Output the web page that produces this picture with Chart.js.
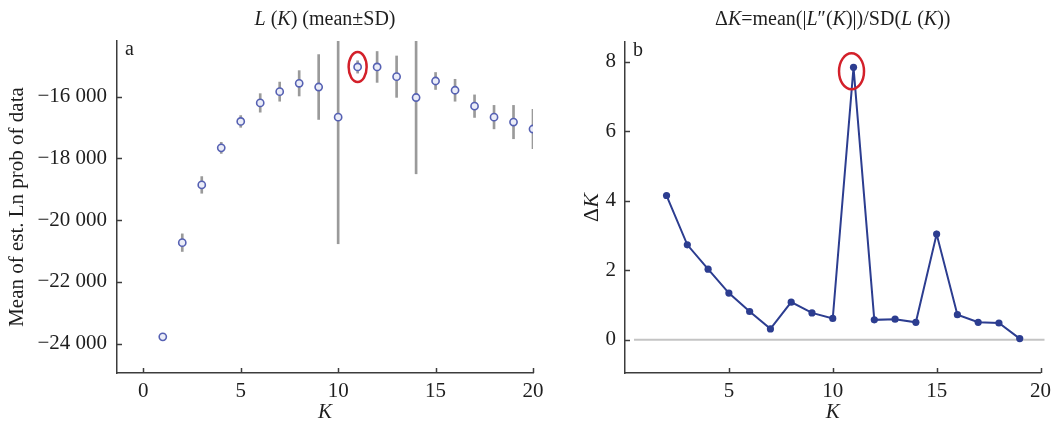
<!DOCTYPE html>
<html><head><meta charset="utf-8">
<script src="https://cdn.jsdelivr.net/npm/chart.js@4"></script>
<style>
html,body{margin:0;padding:0;background:#fff;}
#wrap{position:relative;width:1057px;height:425px;overflow:hidden;}
#c1{position:absolute;left:0;top:0;}
#c2{position:absolute;left:560px;top:0;}
</style></head><body>
<div id="wrap"><canvas id="c1" width="560" height="425"></canvas><canvas id="c2" width="497" height="425"></canvas></div>
<script>
// ---- data ----
const kLeft = [1,2,3,4,5,6,7,8,9,10,11,12,13,14,15,16,17,18,19,20];
const meanLnProb = [-23780,-20730,-18860,-17660,-16805,-16205,-15840,-15570,-15690,-16665,-15040,-15040,-15355,-16030,-15495,-15795,-16310,-16665,-16825,-17050];
const sdLnProb = [0,285,270,180,190,300,310,410,1050,4100,200,500,670,2470,275,355,365,380,540,640];
const kRight = [2,3,4,5,6,7,8,9,10,11,12,13,14,15,16,17,18,19];
const deltaK = [4.15,2.73,2.03,1.34,0.81,0.31,1.08,0.77,0.61,7.84,0.57,0.59,0.50,3.04,0.72,0.50,0.48,0.03];
const leftXTicks = [0,5,10,15,20];
const leftYTicks = [-24000,-22000,-20000,-18000,-16000];
const rightXTicks = [5,10,15,20];
const rightYTicks = [0,2,4,6,8];
const highlightK = 11;

// ---- style ----
const FONT = '"Liberation Serif", "Times New Roman", serif';
const AX = '#3c3c3c';
const TXT = '#1e1e1e';
Chart.defaults.font.family = FONT;
Chart.defaults.color = TXT;

function fmt(v){
  const s = Math.abs(v).toString().replace(/\B(?=(\d{3})+(?!\d))/g, ' ');
  return (v < 0 ? '\u2212' : '') + s;
}

function drawRich(ctx, segs, x, y, size, rotate){
  ctx.save();
  ctx.translate(x, y);
  if (rotate) ctx.rotate(-Math.PI/2);
  ctx.textBaseline = 'middle';
  ctx.textAlign = 'left';
  ctx.fillStyle = TXT;
  let total = 0;
  segs.forEach(s => { ctx.font = (s[1] ? 'italic ' : '') + size + 'px ' + FONT; total += ctx.measureText(s[0]).width; });
  let cx = -total/2;
  segs.forEach(s => { ctx.font = (s[1] ? 'italic ' : '') + size + 'px ' + FONT; ctx.fillText(s[0], cx, 0); cx += ctx.measureText(s[0]).width; });
  ctx.restore();
}

const deco = {
  id: 'deco',
  beforeDatasetsDraw(chart, args, o){
    const {ctx, chartArea:a, scales:{x, y}} = chart;
    if (o.zeroLine){
      const py = y.getPixelForValue(0);
      ctx.save(); ctx.strokeStyle = '#c4c4c4'; ctx.lineWidth = 2;
      ctx.beginPath(); ctx.moveTo(a.left + 9, py); ctx.lineTo(a.right + 4, py); ctx.stroke(); ctx.restore();
    }
  },
  afterDraw(chart, args, o){
    const {ctx, chartArea:a, scales:{x, y}} = chart;
    // inward ticks
    ctx.save(); ctx.strokeStyle = AX; ctx.lineWidth = 1.5;
    x.ticks.forEach(t => { const px = Math.round(x.getPixelForValue(t.value)) + 0.5; ctx.beginPath(); ctx.moveTo(px, a.bottom); ctx.lineTo(px, a.bottom - 5); ctx.stroke(); });
    y.ticks.forEach(t => { const py = Math.round(y.getPixelForValue(t.value)) + 0.5; ctx.beginPath(); ctx.moveTo(a.left, py); ctx.lineTo(a.left + 5, py); ctx.stroke(); });
    ctx.restore();
    // title
    drawRich(ctx, o.title, (a.left + a.right)/2, 20, 20, false);
    if (o.yTitle) drawRich(ctx, o.yTitle, o.yTitleX, (a.top + a.bottom)/2, 22, true);
    // panel letter
    ctx.save(); ctx.fillStyle = TXT; ctx.font = '20px ' + FONT; ctx.textBaseline = 'middle'; ctx.textAlign = 'left';
    ctx.fillText(o.panel, a.left + 8, a.top + 9); ctx.restore();
    // highlight ellipse
    const h = o.highlight;
    const cx = x.getPixelForValue(h.k) + h.dx, cy = y.getPixelForValue(h.v) + h.dy;
    ctx.save(); ctx.strokeStyle = '#d3202a'; ctx.lineWidth = 2.5;
    ctx.beginPath(); ctx.ellipse(cx, cy, h.rx, h.ry, 0, 0, Math.PI*2); ctx.stroke(); ctx.restore();
  }
};

const iHi = kLeft.indexOf(highlightK);
const jHi = kRight.indexOf(highlightK);

new Chart(document.getElementById('c1'), {
  type: 'scatter',
  data: { datasets: [
    { type: 'bar', data: kLeft.map((k,i) => ({x:k, y:[meanLnProb[i]-sdLnProb[i], meanLnProb[i]+sdLnProb[i]]})),
      backgroundColor: '#9a9a9a', barThickness: 2, borderWidth: 0, order: 2 },
    { type: 'scatter', data: kLeft.map((k,i) => ({x:k, y:meanLnProb[i]})),
      pointRadius: 3.6, pointBorderWidth: 1.6, borderColor: '#5661b3', backgroundColor: 'rgba(235,237,248,1)', order: 1 }
  ]},
  options: {
    responsive: false, animation: false,
    layout: { padding: { top: 41, right: 27, left: 0, bottom: 0 } },
    plugins: { legend: {display:false}, tooltip: {enabled:false},
      deco: { title: [['L',1],[' (',0],['K',1],[') (mean\u00b1SD)',0]], panel: 'a',
        highlight: { k: highlightK, v: meanLnProb[iHi], dx: 0, dy: 0, rx: 9, ry: 15 } } },
    scales: {
      x: { type: 'linear', min: -1.35, max: 20, offset: false,
        afterBuildTicks: s => { s.ticks = leftXTicks.map(v => ({value: v})); },
        afterFit: s => { s.height = 52; },
        grid: { display: false, drawTicks: false }, border: { display: true, color: AX, width: 1.5 },
        ticks: { padding: 6, font: { size: 21 }, color: TXT, callback: v => String(v) },
        title: { display: true, text: 'K', font: { size: 21, style: 'italic' }, padding: { top: 0, bottom: 0 }, color: TXT } },
      y: { type: 'linear', min: -24950, max: -14200,
        afterBuildTicks: s => { s.ticks = leftYTicks.map(v => ({value: v})); },
        afterFit: s => { s.width = 117; },
        grid: { display: false, drawTicks: false }, border: { display: true, color: AX, width: 1.5 },
        ticks: { padding: 10, font: { size: 21 }, color: TXT, callback: v => fmt(v) },
        title: { display: true, text: 'Mean of est. Ln prob of data', font: { size: 21 }, padding: { top: 5, bottom: 0 }, color: TXT } }
    }
  },
  plugins: [deco]
});

new Chart(document.getElementById('c2'), {
  type: 'line',
  data: { datasets: [
    { data: kRight.map((k,i) => ({x:k, y:deltaK[i]})), borderColor: '#2c3d90', backgroundColor: '#2c3d90',
      borderWidth: 2, pointRadius: 3.6, pointBorderWidth: 0, tension: 0, fill: false }
  ]},
  options: {
    responsive: false, animation: false,
    layout: { padding: { top: 42, right: 16, left: 0, bottom: 0 } },
    plugins: { legend: {display:false}, tooltip: {enabled:false},
      deco: { title: [['\u0394',0],['K',1],['=mean(|',0],['L',1],['\u2033(',0],['K',1],[')|)/SD(',0],['L',1],[' (',0],['K',1],['))',0]],
        panel: 'b', yTitle: [['\u0394',0],['K',1]], yTitleX: 32, zeroLine: true,
        highlight: { k: highlightK, v: deltaK[jHi], dx: -2, dy: 4, rx: 12.5, ry: 18 } } },
    scales: {
      x: { type: 'linear', min: 0, max: 20, offset: false,
        afterBuildTicks: s => { s.ticks = rightXTicks.map(v => ({value: v})); },
        afterFit: s => { s.height = 52; },
        grid: { display: false, drawTicks: false }, border: { display: true, color: AX, width: 1.5 },
        ticks: { padding: 6, font: { size: 21 }, color: TXT, callback: v => String(v) },
        title: { display: true, text: 'K', font: { size: 21, style: 'italic' }, padding: { top: 0, bottom: 0 }, color: TXT } },
      y: { type: 'linear', min: -0.96, max: 8.57,
        afterBuildTicks: s => { s.ticks = rightYTicks.map(v => ({value: v})); },
        afterFit: s => { s.width = 65; },
        grid: { display: false, drawTicks: false }, border: { display: true, color: AX, width: 1.5 },
        ticks: { padding: 9, font: { size: 21 }, color: TXT, callback: v => String(v) } }
    }
  },
  plugins: [deco]
});
</script>
</body></html>
